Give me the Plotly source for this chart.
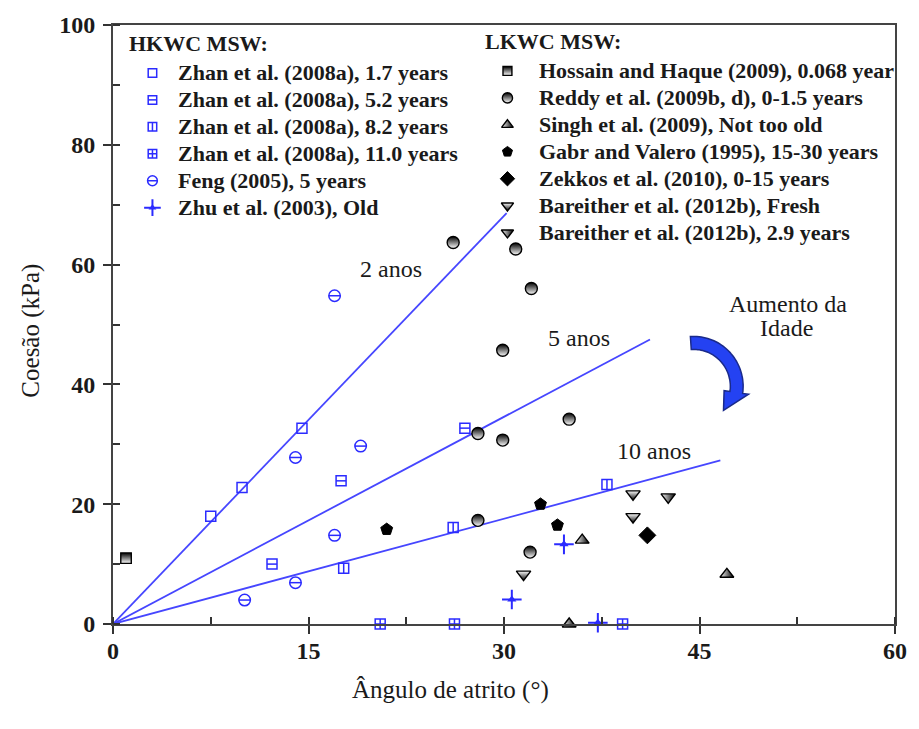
import math
import plotly.graph_objects as go

# ---------------- data: friction angle (deg) vs cohesion (kPa) ----------------
# HKWC MSW
zhan17_x = [7.5, 9.9, 14.5]
zhan17_y = [18.0, 22.8, 32.7]
zhan52_x = [12.2, 17.5, 27.0]
zhan52_y = [10.0, 23.9, 32.7]
zhan82_x = [17.7, 26.1, 37.9]
zhan82_y = [9.3, 16.1, 23.3]
zhan110_x = [20.5, 26.2, 39.1]
zhan110_y = [0.0, 0.0, 0.0]
feng_x = [10.1, 14.0, 14.0, 17.0, 19.0, 17.0]
feng_y = [4.0, 6.9, 27.8, 14.8, 29.7, 54.8]
zhu_x = [30.6, 34.6, 37.2]
zhu_y = [4.1, 13.3, 0.2]

# LKWC MSW
hossain_x = [1.0]
hossain_y = [11.0]
reddy_x = [26.1, 30.9, 32.1, 29.9, 28.0, 29.9, 35.0, 28.0, 32.0]
reddy_y = [63.7, 62.6, 56.0, 45.7, 31.8, 30.7, 34.2, 17.3, 12.0]
singh_x = [36.0, 35.0, 47.1]
singh_y = [14.0, 0.0, 8.3]
gabr_x = [21.0, 32.8, 34.1]
gabr_y = [15.8, 20.0, 16.5]
zekkos_x = [41.0]
zekkos_y = [14.8]
bar_fresh_x = [31.5, 39.9, 39.9]
bar_fresh_y = [8.3, 21.7, 17.9]
bar_29_x = [42.6]
bar_29_y = [21.2]

# age trend lines through the origin
trend_labels = ["2 anos", "5 anos", "10 anos"]
trend_x_end = [30.2, 41.2, 46.6]
trend_y_end = [68.6, 47.5, 27.3]

hkwc_labels = [
    "Zhan et al. (2008a), 1.7 years",
    "Zhan et al. (2008a), 5.2 years",
    "Zhan et al. (2008a), 8.2 years",
    "Zhan et al. (2008a), 11.0 years",
    "Feng (2005), 5 years",
    "Zhu et al. (2003), Old",
]
lkwc_labels = [
    "Hossain and Haque (2009), 0.068 year",
    "Reddy et al. (2009b, d), 0-1.5 years",
    "Singh et al. (2009), Not too old",
    "Gabr and Valero (1995), 15-30 years",
    "Zekkos et al. (2010), 0-15 years",
    "Bareither et al. (2012b), Fresh",
    "Bareither et al. (2012b), 2.9 years",
]

# ---------------- styles ----------------
BLUE = "#2b2bff"
LINE_BLUE = "#4646ff"
INK = "#1a1a1a"
SERIF = "Liberation Serif"
W, H = 919, 729
ML, MR, MT, MB = 113, 13, 24, 105
PW, PH = W - ML - MR, H - MT - MB


def paper_x(px):
    return (px - ML) / PW


def paper_y(py):
    return (H - MB - py) / PH


def open_mark(symbol, size, width=1.5):
    return dict(symbol=symbol, size=size, color=BLUE,
                line=dict(color=BLUE, width=width))


def blue_split(outline, bar, size):
    # outline symbol with a line through its middle
    return [open_mark(outline, size), open_mark(bar, size / 1.4)]


def dark_mark(symbol, size, c0="black", c1="white", gtype="vertical"):
    return dict(symbol=symbol, size=size, color=c0,
                gradient=dict(type=gtype, color=c1),
                line=dict(color="black", width=1.4))


def solid_mark(symbol, size):
    return dict(symbol=symbol, size=size, color="black",
                line=dict(color="black", width=1))


hkwc_layers = [
    [open_mark("square-open", 10)],
    blue_split("square-open", "line-ew", 10),
    blue_split("square-open", "line-ns", 10),
    [open_mark("square-cross-open", 10)],
    blue_split("circle-open", "line-ew", 11.5),
    [open_mark("cross-thin-open", 14, 2),
     dict(symbol="triangle-up", size=8, color=BLUE, line=dict(width=0))],
]
lkwc_layers = [
    [dark_mark("square", 10.5)],
    [dark_mark("circle", 12)],
    [dark_mark("triangle-up", 12, "white", "black", "horizontal")],
    [solid_mark("pentagon", 12.5)],
    [solid_mark("diamond", 13)],
    [dark_mark("triangle-down", 12.5, "white", "black", "vertical")],
    [dark_mark("triangle-down", 12.5, "white", "black", "horizontal")],
]

hkwc_data = [(zhan17_x, zhan17_y), (zhan52_x, zhan52_y), (zhan82_x, zhan82_y),
             (zhan110_x, zhan110_y), (feng_x, feng_y), (zhu_x, zhu_y)]
lkwc_data = [(hossain_x, hossain_y), (reddy_x, reddy_y), (singh_x, singh_y),
             (gabr_x, gabr_y), (zekkos_x, zekkos_y), (bar_fresh_x, bar_fresh_y),
             (bar_29_x, bar_29_y)]

fig = go.Figure()

# trend lines
for lab, xe, ye in zip(trend_labels, trend_x_end, trend_y_end):
    fig.add_trace(go.Scatter(x=[0, xe], y=[0, ye], mode="lines",
                             line=dict(color=LINE_BLUE, width=1.8),
                             name=lab, showlegend=False, hoverinfo="skip"))


def add_points(xs, ys, layers, name, xa="x", ya="y"):
    for mk in layers:
        fig.add_trace(go.Scatter(x=xs, y=ys, mode="markers", marker=mk,
                                 name=name, showlegend=False,
                                 cliponaxis=False, xaxis=xa, yaxis=ya))


for (xs, ys), layers, lab in zip(hkwc_data, hkwc_layers, hkwc_labels):
    add_points(xs, ys, layers, lab)
for (xs, ys), layers, lab in zip(lkwc_data, lkwc_layers, lkwc_labels):
    add_points(xs, ys, layers, lab)

# ---------------- legend drawn on a pixel-space overlay axis ----------------
ROW = 27
LEG_COLS = [
    dict(title="HKWC MSW:", title_x=127, sym_x=153, text_x=177, y0=72,
         labels=hkwc_labels, layers=hkwc_layers),
    dict(title="LKWC MSW:", title_x=488, sym_x=513, text_x=543, y0=70,
         labels=lkwc_labels, layers=lkwc_layers),
]
annotations = []
for col in LEG_COLS:
    annotations.append(dict(x=col["title_x"], y=col["y0"] - 29, xref="x2", yref="y2",
                            text="<b>%s</b>" % col["title"], showarrow=False,
                            xanchor="left", yanchor="middle",
                            font=dict(family=SERIF, size=22, color=INK)))
    for i, (lab, layers) in enumerate(zip(col["labels"], col["layers"])):
        yy = col["y0"] + i * ROW
        small = [dict(m, size=m["size"] * 0.85) for m in layers]
        add_points([col["sym_x"]], [yy], small, lab, "x2", "y2")
        annotations.append(dict(x=col["text_x"], y=yy, xref="x2", yref="y2",
                                text="<b>%s</b>" % lab, showarrow=False,
                                xanchor="left", yanchor="middle",
                                font=dict(family=SERIF, size=22, color=INK)))

# trend labels and age note
for txt, px, py in [("2 anos", 395, 268), ("5 anos", 586, 338), ("10 anos", 662, 451),
                    ("Aumento da", 797, 303), ("Idade", 796, 328)]:
    annotations.append(dict(x=px, y=py, xref="x2", yref="y2", text=txt,
                            showarrow=False, xanchor="center", yanchor="middle",
                            font=dict(family=SERIF, size=24, color=INK)))

# axis titles (outside the plot area, so placed in paper units)
annotations.append(dict(x=paper_x(30), y=paper_y(330), xref="paper", yref="paper",
                        text="Coesão (kPa)", textangle=-90, showarrow=False,
                        xanchor="center", yanchor="middle",
                        font=dict(family=SERIF, size=25, color=INK)))
annotations.append(dict(x=paper_x(455), y=paper_y(690), xref="paper", yref="paper",
                        text="Ângulo de atrito (°)", showarrow=False,
                        xanchor="center", yanchor="middle",
                        font=dict(family=SERIF, size=25, color=INK)))

# curved "age increase" arrow, built in pixel space
cx, cy = 702, 386
r_out, r_in = 50, 37
a0, a1 = -94, 8
pts = []
for k in range(0, 41):
    a = math.radians(a0 + (a1 - a0) * k / 40)
    pts.append((cx + r_out * math.cos(a), cy + r_out * math.sin(a)))
ae = math.radians(a1)
rm = (r_out + r_in) / 2
bx, by = cx + rm * math.cos(ae), cy + rm * math.sin(ae)
head_out = (cx + (r_out + 6) * math.cos(ae), cy + (r_out + 6) * math.sin(ae))
head_in = (cx + (r_in - 6) * math.cos(ae), cy + (r_in - 6) * math.sin(ae))
td = ae + math.radians(28)
tip = (bx - 22 * math.sin(td), by + 22 * math.cos(td))
pts += [head_out, tip, head_in]
for k in range(40, -1, -1):
    a = math.radians(a0 + (a1 - a0) * k / 40)
    pts.append((cx + r_in * math.cos(a), cy + r_in * math.sin(a)))
path = "M " + " L ".join("%.1f,%.1f" % p for p in pts) + " Z"

fig.update_layout(
    width=W, height=H,
    margin=dict(l=ML, r=MR, t=MT, b=MB),
    paper_bgcolor="white", plot_bgcolor="white",
    showlegend=False,
    annotations=annotations,
    shapes=[dict(type="path", path=path, xref="x2", yref="y2",
                 fillcolor="#2442f2", line=dict(color="#1a2a8a", width=1.5))],
    xaxis=dict(range=[0, 60], dtick=15, tick0=0, showgrid=False, zeroline=False,
               showline=True, linecolor="#444", linewidth=2, mirror=True,
               ticks="outside", ticklen=8, tickwidth=1.6, tickcolor="#333",
               ticklabelstandoff=-4,
               tickfont=dict(family=SERIF, size=24, color=INK, weight="bold"),
               minor=dict(dtick=7.5, tick0=0, ticks="inside", ticklen=7,
                          tickwidth=1.6, tickcolor="#333", showgrid=False)),
    yaxis=dict(range=[0, 100], dtick=20, tick0=0, showgrid=False, zeroline=False,
               showline=True, linecolor="#444", linewidth=2, mirror=True,
               ticks="outside", ticklen=8, tickwidth=1.6, tickcolor="#333",
               ticklabelstandoff=3,
               tickfont=dict(family=SERIF, size=24, color=INK, weight="bold"),
               minor=dict(dtick=10, tick0=0, ticks="inside", ticklen=7,
                          tickwidth=1.6, tickcolor="#333", showgrid=False)),
    xaxis2=dict(overlaying="x", range=[ML, W - MR], visible=False, fixedrange=True),
    yaxis2=dict(overlaying="y", range=[H - MB, MT], visible=False, fixedrange=True),
)

fig.write_html("out.html")
